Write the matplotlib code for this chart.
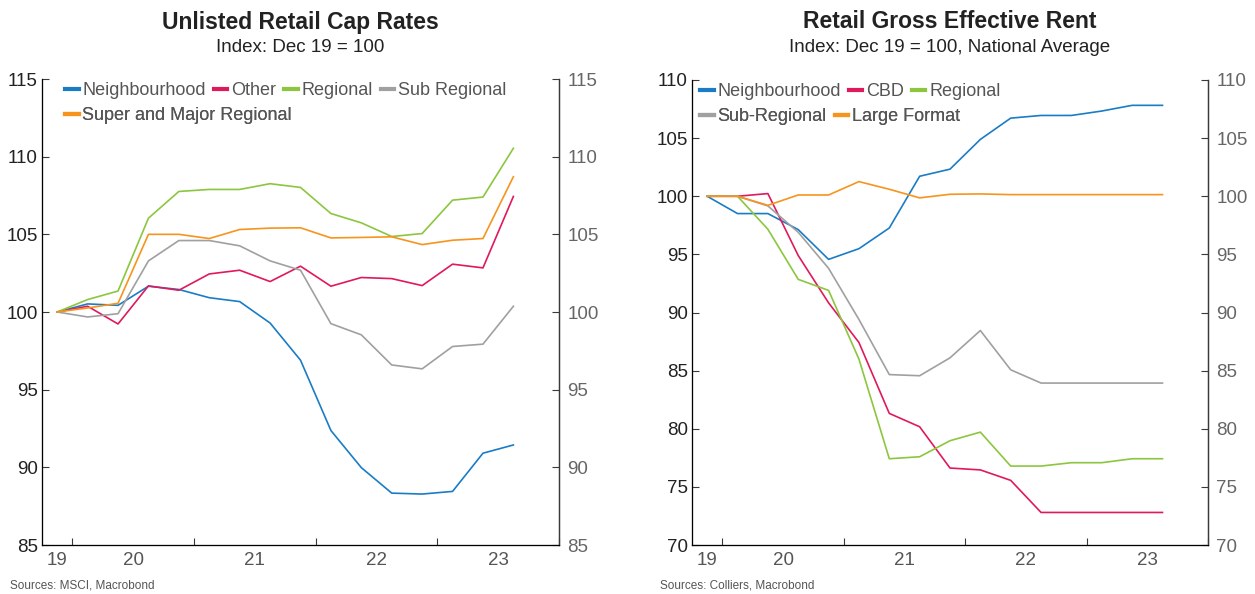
import matplotlib
matplotlib.use("Agg")
import matplotlib.pyplot as plt

plt.rcParams['font.family'] = ['Liberation Sans', 'DejaVu Sans']

# quarters Dec 19 .. Sep 23
quarters = ["2019Q4", "2020Q1", "2020Q2", "2020Q3", "2020Q4", "2021Q1", "2021Q2", "2021Q3",
            "2021Q4", "2022Q1", "2022Q2", "2022Q3", "2022Q4", "2023Q1", "2023Q2", "2023Q3"]

# left panel: Unlisted retail cap rates
cap_neighbourhood = [100, 100.52, 100.43, 101.66, 101.45, 100.92, 100.67, 99.29,
                     96.9, 92.37, 89.98, 88.34, 88.28, 88.45, 90.91, 91.44]
cap_other = [100, 100.37, 99.23, 101.68, 101.40, 102.45, 102.69, 101.96,
             102.95, 101.66, 102.22, 102.15, 101.70, 103.08, 102.84, 107.44]
cap_regional = [100, 100.80, 101.35, 106.04, 107.76, 107.89, 107.89, 108.26,
                108.02, 106.34, 105.74, 104.86, 105.05, 107.20, 107.40, 110.54]
cap_sub_regional = [100, 99.68, 99.89, 103.29, 104.60, 104.60, 104.26, 103.29,
                    102.69, 99.25, 98.53, 96.59, 96.34, 97.78, 97.93, 100.37]
cap_super_major = [100, 100.26, 100.56, 105.0, 105.0, 104.73, 105.31, 105.40,
                   105.42, 104.77, 104.80, 104.84, 104.34, 104.62, 104.73, 108.71]

# right panel: retail gross effective rent
rent_neighbourhood = [100, 98.51, 98.51, 97.13, 94.57, 95.49, 97.27, 101.72,
                      102.33, 104.89, 106.72, 106.95, 106.95, 107.33, 107.82, 107.82]
rent_cbd = [100, 100, 100.23, 94.9, 90.83, 87.42, 81.32, 80.17,
            76.62, 76.46, 75.56, 72.8, 72.8, 72.8, 72.8, 72.8]
rent_regional = [100, 100, 97.16, 92.85, 91.9, 85.99, 77.42, 77.59,
                 78.97, 79.71, 76.79, 76.79, 77.08, 77.08, 77.42, 77.42]
rent_sub_regional = [100, 100, 99.17, 96.9, 93.8, 89.4, 84.66, 84.56,
                     86.1, 88.45, 85.07, 83.93, 83.93, 83.93, 83.93, 83.93]
rent_large_format = [100, 100, 99.22, 100.11, 100.11, 101.26, 100.6, 99.86,
                     100.17, 100.2, 100.14, 100.14, 100.14, 100.14, 100.14, 100.14]

year_ticks = [2020, 2021, 2022, 2023, 2024]
year_label_pos = [2019.875, 2020.5, 2021.5, 2022.5, 2023.5]
year_labels = ["19", "20", "21", "22", "23"]

BLUE = "#1b7cc6"
CRIMSON = "#e0195a"
GREEN = "#8cc63f"
GREY = "#a0a0a0"
ORANGE = "#f7941d"
SPINE = "#3a3a3a"

# mid-quarter positions in fractional years
x = [int(q[:4]) + (int(q[-1]) - 0.5) / 4 for q in quarters]

fig = plt.figure(figsize=(12.55, 5.94), dpi=100)


def setup_axes(rect, ylim, step, title, subtitle, source):
    ax = fig.add_axes(rect)
    ax.set_xlim(2019.75, 2024.0)
    ax.set_ylim(*ylim)
    ax.set_yticks(range(ylim[0], ylim[1] + 1, step))
    ax.set_xticks(year_ticks)
    ax.set_xticklabels([])
    ax.set_xticks(year_label_pos, minor=True)
    ax.set_xticklabels(year_labels, minor=True)
    ax.tick_params(axis="x", which="major", direction="in", length=5, width=0.8, color=SPINE)
    ax.tick_params(axis="x", which="minor", length=0, pad=5, labelsize=13.5, labelcolor="#555555")
    ax.tick_params(axis="y", direction="in", length=5, width=0.8, color=SPINE,
                   labelsize=13.5, labelcolor="#222222", pad=3)
    ax.spines["top"].set_visible(False)
    for s in ["left", "right", "bottom"]:
        ax.spines[s].set_color(SPINE)
        ax.spines[s].set_linewidth(0.9)
    ax2 = ax.twinx()
    ax2.set_ylim(*ylim)
    ax2.set_yticks(range(ylim[0], ylim[1] + 1, step))
    ax2.tick_params(axis="y", direction="in", length=5, width=0.8, color=SPINE,
                    labelsize=13.5, labelcolor="#666666", pad=6)
    ax2.spines["top"].set_visible(False)
    ax2.spines["right"].set_color(SPINE)
    ax2.spines["right"].set_linewidth(0.9)
    cx = rect[0] + rect[2] / 2
    fig.text(cx, 1 - 22 / 594, title, ha="center", va="center", fontsize=16.5,
             fontweight="bold", color="#222222")
    fig.text(cx, 1 - 48 / 594, subtitle, ha="center", va="center", fontsize=13.5,
             color="#222222")
    fig.text(rect[0] - 32 / 1255, 8 / 594, source, ha="left", va="center",
             fontsize=8.5, color="#555555")
    return ax


def add_legend_rows(ax, rows, x0):
    y0 = 1.0 - 3 / 466
    for handles in rows:
        leg = ax.legend(handles=handles, loc="upper left", bbox_to_anchor=(x0, y0),
                        ncol=len(handles), frameon=False, fontsize=13, handlelength=0.75,
                        handletextpad=0.2, columnspacing=0.45, borderpad=0, borderaxespad=0,
                        labelcolor="#555555")
        for h in leg.get_lines():
            h.set_linewidth(3)
        ax.add_artist(leg)
        y0 -= 25 / 466


ax1 = setup_axes([42 / 1255, 49 / 594, 517 / 1255, 466 / 594], (85, 115), 5,
                 "Unlisted Retail Cap Rates", "Index: Dec 19 = 100",
                 "Sources: MSCI, Macrobond")
l1, = ax1.plot(x, cap_neighbourhood, color=BLUE, lw=1.2, label="Neighbourhood")
l2, = ax1.plot(x, cap_other, color=CRIMSON, lw=1.2, label="Other")
l3, = ax1.plot(x, cap_regional, color=GREEN, lw=1.2, label="Regional")
l4, = ax1.plot(x, cap_sub_regional, color=GREY, lw=1.2, label="Sub Regional")
l5, = ax1.plot(x, cap_super_major, color=ORANGE, lw=1.2, label="Super and Major Regional")
add_legend_rows(ax1, [[l1, l2, l3, l4], [l5]], 23 / 517)

ax2 = setup_axes([692 / 1255, 49 / 594, 516 / 1255, 465 / 594], (70, 110), 5,
                 "Retail Gross Effective Rent", "Index: Dec 19 = 100, National Average",
                 "Sources: Colliers, Macrobond")
r1, = ax2.plot(x, rent_neighbourhood, color=BLUE, lw=1.2, label="Neighbourhood")
r2, = ax2.plot(x, rent_cbd, color=CRIMSON, lw=1.2, label="CBD")
r3, = ax2.plot(x, rent_regional, color=GREEN, lw=1.2, label="Regional")
r4, = ax2.plot(x, rent_sub_regional, color=GREY, lw=1.2, label="Sub-Regional")
r5, = ax2.plot(x, rent_large_format, color=ORANGE, lw=1.2, label="Large Format")
add_legend_rows(ax2, [[r1, r2, r3], [r4, r5]], 8 / 516)

fig.savefig("out.png", dpi=100)
